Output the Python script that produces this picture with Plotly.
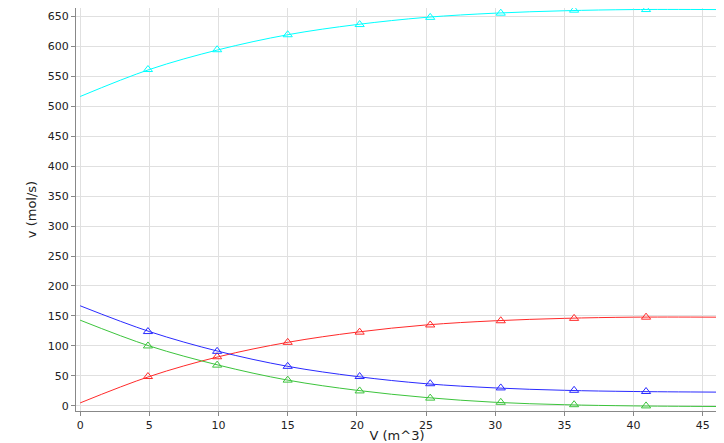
import plotly.graph_objects as go

# curve samples
v_line = [0, 5, 10, 15, 20, 25, 30, 35, 40, 46]
cyan_line = [516, 561, 594, 619, 636, 648, 655, 659, 661, 661]
red_line = [5, 49, 82, 106, 123, 135, 142, 146, 148, 148]
blue_line = [167, 124, 91, 66, 49, 37, 30, 26, 24, 23]
green_line = [143, 100, 68, 43, 26, 14, 6, 2, 0, -1]

# marker samples
v_mark = [4.9, 9.9, 15, 20.2, 25.3, 30.4, 35.7, 40.9]
cyan_mark = [561, 594, 619, 636, 648, 655, 660, 661]
red_mark = [49, 82, 106, 123, 135, 142, 146, 148]
blue_mark = [124, 91, 66, 49, 37, 30, 26, 24]
green_mark = [100, 68, 43, 25, 13, 6, 2, 0]

series = [
    (cyan_line, cyan_mark, "#00ffff"),
    (red_line, red_mark, "#ff2a2a"),
    (blue_line, blue_mark, "#2a2aff"),
    (green_line, green_mark, "#3cc43c"),
]

fig = go.Figure()
for yl, ym, c in series:
    fig.add_trace(go.Scatter(x=v_line, y=yl, mode="lines",
                             line=dict(color=c, width=1, shape="spline")))
    fig.add_trace(go.Scatter(x=v_mark, y=ym, mode="markers",
                             marker=dict(symbol="triangle-up-open", size=8, color=c,
                                         line=dict(width=1, color=c))))

axis = dict(showgrid=True, gridcolor="#e0e0e0", zeroline=False, showline=True,
            linecolor="#888", mirror=True, ticks="outside", ticklen=4, tickcolor="#888",
            tickfont=dict(size=11, color="#222"))
# page body has an 8px margin, so the figure is 8px smaller and shifted
fig.update_layout(
    width=716, height=435, showlegend=False,
    margin=dict(l=68, r=6, t=0, b=32),
    plot_bgcolor="white", paper_bgcolor="white",
    font=dict(family="DejaVu Sans", size=11, color="#222"),
    xaxis=dict(axis, range=[-0.3, 46.1], dtick=5,
               title=dict(text="V (m^3)", standoff=2)),
    yaxis=dict(axis, range=[-8.5, 663.6], dtick=50,
               title=dict(text="v (mol/s)", standoff=8)),
)
fig.write_html("out.html")
